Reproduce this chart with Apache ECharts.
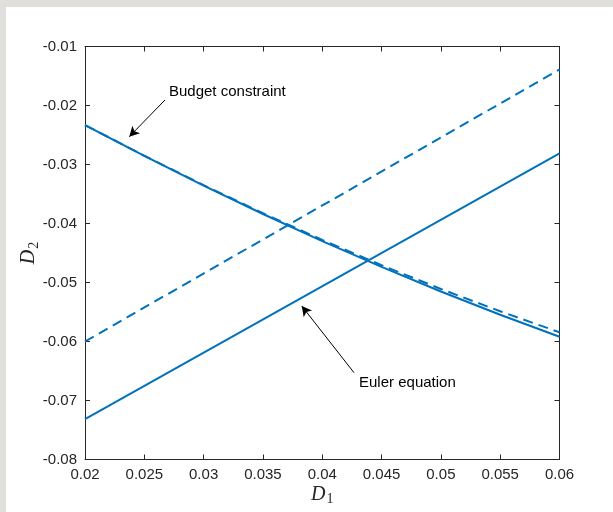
<!DOCTYPE html>
<html><head><meta charset="utf-8">
<script src="https://cdn.jsdelivr.net/npm/echarts@6/dist/echarts.min.js"></script>
<style>
html,body{margin:0;padding:0;background:#e0dfdb;width:613px;height:512px;overflow:hidden}
#c{position:absolute;left:6px;top:7px;width:607px;height:505px;background:#fff}
</style>
</head><body><div id="c"></div>
<script>
// ---- data ----
const xBudget = [0.02, 0.025, 0.03, 0.035, 0.04, 0.045, 0.05, 0.055, 0.06];
const budgetSolid = [-0.02331, -0.02855, -0.03358, -0.03839, -0.04298, -0.04736, -0.05152, -0.05546, -0.05919];
const budgetDashed = [-0.02331, -0.02852, -0.03350, -0.03825, -0.04278, -0.04706, -0.05110, -0.05488, -0.05844];
const xEuler = [0.02, 0.06];
const eulerSolid = [-0.07314, -0.02810];
const eulerDashed = [-0.0600, -0.0139];
const xTickLabels = ['0.02', '0.025', '0.03', '0.035', '0.04', '0.045', '0.05', '0.055', '0.06'];
const yTickLabels = ['-0.08', '-0.07', '-0.06', '-0.05', '-0.04', '-0.03', '-0.02', '-0.01'];
const budgetArrow = [[0.02674, -0.01907], [0.02373, -0.02529]];
const eulerArrow = [[0.04268, -0.06529], [0.03827, -0.05398]];
const budgetText = {text: 'Budget constraint', at: [0.02708, -0.01766]};
const eulerText = {text: 'Euler equation', at: [0.04310, -0.06698]};

const X_MIN = 0.02, X_MAX = 0.06, X_INT = 0.005;
const Y_MIN = -0.08, Y_MAX = -0.01, Y_INT = 0.01;
const BLUE = '#0072BD', AX = '#262626';
const SANS = "'Liberation Sans', Arial, Helvetica, sans-serif";
const SERIF = "'Liberation Serif', 'DejaVu Serif', 'Times New Roman', serif";

function pairs(xs, ys) { return xs.map((x, i) => [x, ys[i]]); }

const chart = echarts.init(document.getElementById('c'), null, {renderer: 'canvas'});

function axisCommon(isX, pos, showLabel) {
  const labels = isX ? xTickLabels : yTickLabels;
  const mn = isX ? X_MIN : Y_MIN, it = isX ? X_INT : Y_INT;
  return {
    type: 'value', position: pos,
    min: mn, max: isX ? X_MAX : Y_MAX, interval: it,
    axisLine: {show: true, onZero: false, lineStyle: {color: AX, width: 1}},
    axisTick: {show: true, inside: true, length: 5, lineStyle: {color: AX, width: 1}},
    splitLine: {show: false},
    axisLabel: {
      show: showLabel, margin: 8, fontSize: 15, color: AX, fontFamily: SANS,
      showMinLabel: true, showMaxLabel: true,
      formatter: v => labels[Math.round((v - mn) / it)]
    }
  };
}

const nameRich = () => ({
  d: {fontFamily: SERIF, fontStyle: 'italic', fontSize: 20, color: AX},
  s: {fontFamily: SERIF, fontSize: 14, color: AX, padding: [10, 0, 0, 1]}
});

const xMain = axisCommon(true, 'bottom', true);
Object.assign(xMain, {
  name: '{d|D}{s|1}', nameLocation: 'middle', nameGap: 23, nameMoveOverlap: false,
  nameTextStyle: {rich: nameRich()}
});
const yMain = axisCommon(false, 'left', true);
Object.assign(yMain, {
  name: '{d|D}{s|2}', nameLocation: 'middle', nameGap: 44, nameRotate: 90, nameMoveOverlap: false,
  nameTextStyle: {rich: nameRich()}
});

const arrowLine = (a) => [{coord: a[0], symbol: 'none'}, {coord: a[1], symbol: 'arrow'}];

chart.setOption({
  animation: false,
  grid: {left: 79, right: 53.5, top: 39.5, bottom: 52.5, containLabel: false, outerBoundsMode: 'none'},
  xAxis: [xMain, axisCommon(true, 'top', false)],
  yAxis: [yMain, axisCommon(false, 'right', false)],
  series: [
    {type: 'line', data: pairs(xBudget, budgetSolid), symbol: 'none',
     lineStyle: {color: BLUE, width: 2}},
    {type: 'line', data: pairs(xBudget, budgetDashed), symbol: 'none',
     lineStyle: {color: BLUE, width: 2, type: [10, 6]}},
    {type: 'line', data: pairs(xEuler, eulerSolid), symbol: 'none',
     lineStyle: {color: BLUE, width: 2}},
    {type: 'line', data: pairs(xEuler, eulerDashed), symbol: 'none',
     lineStyle: {color: BLUE, width: 2, type: [10, 6]},
     markLine: {
       silent: true, animation: false, symbol: ['none', 'arrow'], symbolSize: [8, 10],
       lineStyle: {color: '#000', width: 1, type: 'solid'},
       label: {show: false},
       emphasis: {disabled: true},
       data: [arrowLine(budgetArrow), arrowLine(eulerArrow)]
     }}
  ]
});

function placeTexts() {
  const g = [budgetText, eulerText].map(t => {
    const p = chart.convertToPixel({xAxisIndex: 0, yAxisIndex: 0}, t.at);
    return {type: 'text', x: p[0], y: p[1], silent: true,
      style: {text: t.text, fontSize: 15, fontFamily: SANS, fill: '#000',
              textAlign: 'left', textVerticalAlign: 'middle'}};
  });
  chart.setOption({graphic: g});
}
placeTexts();
</script>
</body></html>
